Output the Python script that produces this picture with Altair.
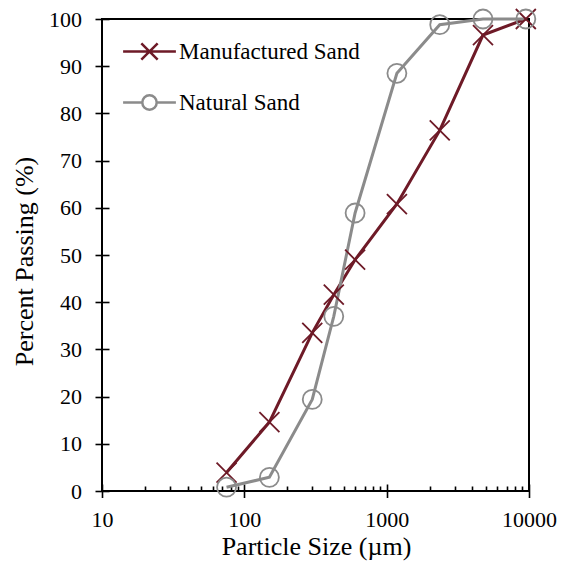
import altair as alt
import pandas as pd

# Sieve analysis: percent passing vs particle size for two sands
sieve_sizes = [75, 150, 300, 425, 600, 1180, 2360, 4750, 9500]
manufactured_passing = [3.9, 14.6, 33.5, 41.6, 49.0, 60.8, 76.4, 96.6, 100.0]
natural_passing = [0.8, 2.9, 19.4, 37.0, 58.9, 88.5, 98.8, 100.0, 100.0]
series_names = ["Manufactured Sand", "Natural Sand"]
series_colors = ["#6e1a27", "#8b8b8b"]
y_ticks = list(range(0, 101, 10))
x_major = [10, 100, 1000, 10000]
x_minor = [m * d for d in (10, 100, 1000) for m in range(2, 10)]

df = pd.DataFrame({
    "size": sieve_sizes * 2,
    "passing": manufactured_passing + natural_passing,
    "series": [series_names[0]] * len(sieve_sizes) + [series_names[1]] * len(sieve_sizes),
})

FONT = "Liberation Serif"
W, H = 427, 472

x_scale = alt.Scale(type="log", domain=[10, 10000], nice=False)
y_scale = alt.Scale(domain=[0, 100], nice=False)

common_axis = dict(domain=False, grid=False, tickColor="black", tickWidth=1.6,
                   labelFont=FONT, labelColor="black", titleFont=FONT,
                   titleColor="black", titleFontWeight="normal")

# Major x ticks cross the frame: the axis is pulled inside by 7px
x_main_axis = alt.Axis(values=x_major, format="d", offset=-7, tickSize=13.5,
                       labelFontSize=22, labelPadding=29, labelBaseline="alphabetic",
                       labelFlush=False,
                       title="Particle Size (µm)", titleFontSize=26,
                       titleBaseline="alphabetic", titleAnchor="middle",
                       titleX=214, titleY=70, orient="bottom", **common_axis)
# Minor x ticks point inward only
x_minor_axis = alt.Axis(values=x_minor, labels=False, offset=-5, tickSize=5,
                        title=None, orient="bottom", **common_axis)
# Y ticks cross the frame as well
y_axis = alt.Axis(values=y_ticks, offset=-7, tickSize=14, labelFontSize=22,
                  labelPadding=13.5, title="Percent Passing (%)", titleFontSize=26,
                  titleBaseline="alphabetic", titleAngle=270, titleX=-77, titleY=242,
                  titleAnchor="middle", orient="left", **common_axis)

base = alt.Chart(df)
man = base.transform_filter(alt.datum.series == series_names[0])
nat = base.transform_filter(alt.datum.series == series_names[1])

man_line = man.mark_line(color=series_colors[0], strokeWidth=3).encode(
    x=alt.X("size:Q", scale=x_scale, axis=x_minor_axis),
    y=alt.Y("passing:Q", scale=y_scale, axis=y_axis),
)
nat_line = nat.mark_line(color=series_colors[1], strokeWidth=3).encode(
    x=alt.X("size:Q", scale=x_scale, axis=x_main_axis),
    y=alt.Y("passing:Q", scale=y_scale, axis=None),
)
man_pts = man.mark_point(shape="M-1,-1L1,1M-1,1L1,-1", size=400, filled=False,
                         color=series_colors[0], strokeWidth=1.8, opacity=1).encode(
    x=alt.X("size:Q", scale=x_scale, axis=None),
    y=alt.Y("passing:Q", scale=y_scale, axis=None),
)
nat_pts = nat.mark_point(shape="circle", size=361, filled=False,
                         color=series_colors[1], strokeWidth=1.8, opacity=1).encode(
    x=alt.X("size:Q", scale=x_scale, axis=None),
    y=alt.Y("passing:Q", scale=y_scale, axis=None),
)

# Legend symbols: a line segment with the series marker on it
legend_paths = [
    "M-1.1,0H1.1M-0.34,-0.34L0.34,0.34M-0.34,0.34L0.34,-0.34",
    "M-1.1,0H-0.3M0.3,0H1.1M-0.3,0A0.3,0.3 0 1,0 0.3,0A0.3,0.3 0 1,0 -0.3,0",
]
legend = alt.Legend(title=None, orient="none", legendX=22, legendY=7,
                    padding=0, rowPadding=12, symbolSize=2304, symbolStrokeWidth=2.5,
                    symbolOpacity=1, labelFont=FONT, labelFontSize=23,
                    labelColor="black", labelOffset=4, labelLimit=0)
legend_layer = base.mark_point(opacity=0, filled=False).encode(
    x=alt.X("size:Q", scale=x_scale, axis=None),
    y=alt.Y("passing:Q", scale=y_scale, axis=None),
    color=alt.Color("series:N", scale=alt.Scale(domain=series_names, range=series_colors),
                    legend=legend),
    shape=alt.Shape("series:N", scale=alt.Scale(domain=series_names, range=legend_paths),
                    legend=legend),
)

chart = alt.layer(man_line, nat_line, man_pts, nat_pts, legend_layer).resolve_axis(
    x="independent", y="independent"
).properties(
    width=W, height=H,
    padding={"left": 102, "top": 19, "right": 566 - 102 - W, "bottom": 571 - 19 - H},
    autosize=alt.AutoSizeParams(type="none"),
    background="white",
).configure(font=FONT).configure_view(stroke="black", strokeWidth=2)

chart.save("out.html", embed_options={"renderer": "svg", "actions": False})
